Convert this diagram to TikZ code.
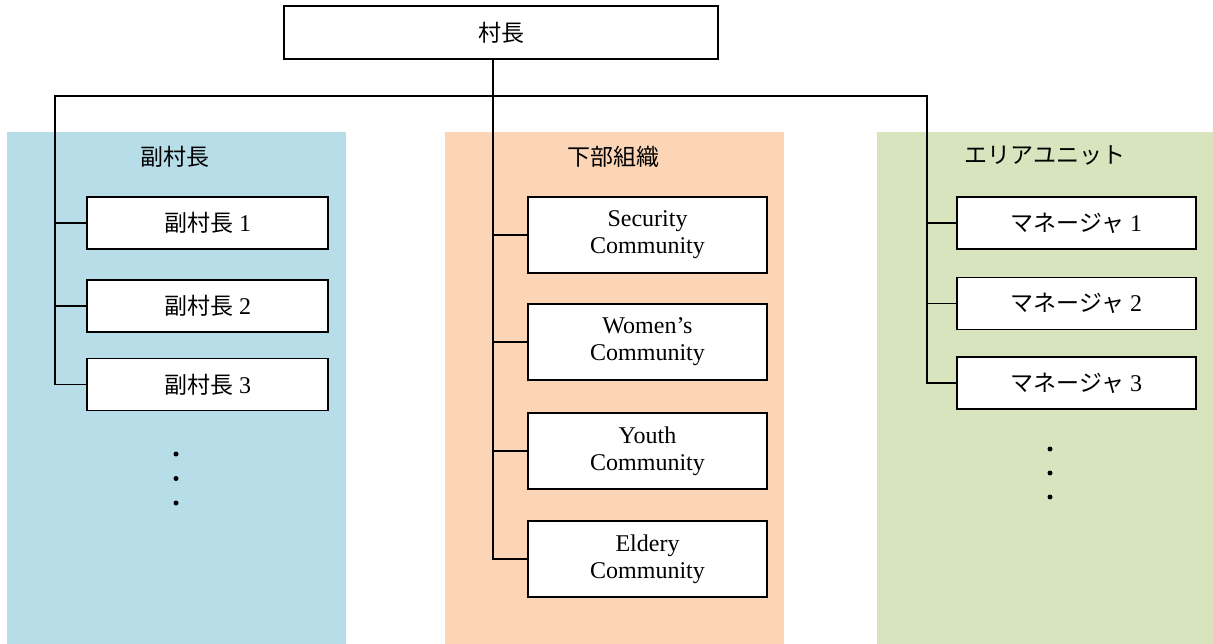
\documentclass[tikz,border=0pt]{standalone}
\usepackage{fontspec}
\setmainfont{Liberation Serif}
\newfontfamily\jp{Noto Sans CJK JP}
\definecolor{pblue}{HTML}{B7DDE8}
\definecolor{porange}{HTML}{FBD5B5}
\definecolor{pgreen}{HTML}{D7E4BD}
\tikzset{
  orgbox/.style={draw=black, fill=white, line width=1.3pt, inner sep=0pt, align=center,
    minimum width=240pt, minimum height=52pt, font=\fontsize{24}{27}\selectfont},
  tallbox/.style={orgbox, minimum height=76pt},
  paneltitle/.style={inner sep=0pt, font=\fontsize{23}{27}\selectfont\jp},
  conn/.style={line width=1.3pt, line cap=rect},
  dotmark/.style={circle, fill=black, inner sep=0pt, minimum size=5pt}
}
\begin{document}
\begin{tikzpicture}[x=1pt,y=1pt]
\useasboundingbox (0,0) rectangle (1213,-644);
% panels
\fill[pblue] (7,-132) rectangle (346,-644);
\fill[porange] (445,-132) rectangle (784,-644);
\fill[pgreen] (877,-132) rectangle (1213,-644);
% panel titles
\node[paneltitle] (tblue) at (175,-157) {副村長};
\node[paneltitle] (torange) at (613,-157) {下部組織};
\node[paneltitle] (tgreen) at (1045,-155) {エリアユニット};
% trunk coordinates
\coordinate (L) at (55,-96);
\coordinate (M) at (493,-96);
\coordinate (R) at (927,-96);
% top box
\node[orgbox, minimum width=434pt, minimum height=53pt, font=\fontsize{23}{27}\selectfont] (top) at (501,-32.5) {{\jp 村長}};
% blue column
\node[orgbox, minimum width=241pt] (b1) at (207.5,-223) {{\fontsize{23}{27}\selectfont\jp 副村長} 1};
\node[orgbox, minimum width=241pt] (b2) at (207.5,-306) {{\fontsize{23}{27}\selectfont\jp 副村長} 2};
\node[orgbox, minimum width=241pt] (b3) at (207.5,-384.5) {{\fontsize{23}{27}\selectfont\jp 副村長} 3};
% orange column
\node[tallbox, minimum width=239pt] (o1) at (647.5,-235) {Security\\Community};
\node[tallbox, minimum width=239pt] (o2) at (647.5,-342) {Women’s\\Community};
\node[tallbox, minimum width=239pt] (o3) at (647.5,-451) {Youth\\Community};
\node[tallbox, minimum width=239pt] (o4) at (647.5,-559) {Eldery\\Community};
% green column
\node[orgbox, minimum width=239pt] (g1) at (1076.5,-223) {{\fontsize{23}{27}\selectfont\jp マネージャ} 1};
\node[orgbox, minimum width=239pt] (g2) at (1076.5,-303.5) {{\fontsize{23}{27}\selectfont\jp マネージャ} 2};
\node[orgbox, minimum width=239pt] (g3) at (1076.5,-383) {{\fontsize{23}{27}\selectfont\jp マネージャ} 3};
% connectors
\draw[conn] (top.south -| M) -- (M |- o4.west) -- (o4.west);
\draw[conn] (L) -- (R);
\draw[conn] (L) -- (L |- b3.west) -- (b3.west);
\draw[conn] (L |- b1.west) -- (b1.west);
\draw[conn] (L |- b2.west) -- (b2.west);
\draw[conn] (M |- o1.west) -- (o1.west);
\draw[conn] (M |- o2.west) -- (o2.west);
\draw[conn] (M |- o3.west) -- (o3.west);
\draw[conn] (R) -- (R |- g3.west) -- (g3.west);
\draw[conn] (R |- g1.west) -- (g1.west);
\draw[conn] (R |- g2.west) -- (g2.west);
% dots
\node[dotmark] (bd1) at (176,-454) {};
\node[dotmark] (bd2) at (176,-478.5) {};
\node[dotmark] (bd3) at (176,-503) {};
\node[dotmark] (gd1) at (1050,-449) {};
\node[dotmark] (gd2) at (1050,-473) {};
\node[dotmark] (gd3) at (1050,-497) {};
\end{tikzpicture}
\end{document}
